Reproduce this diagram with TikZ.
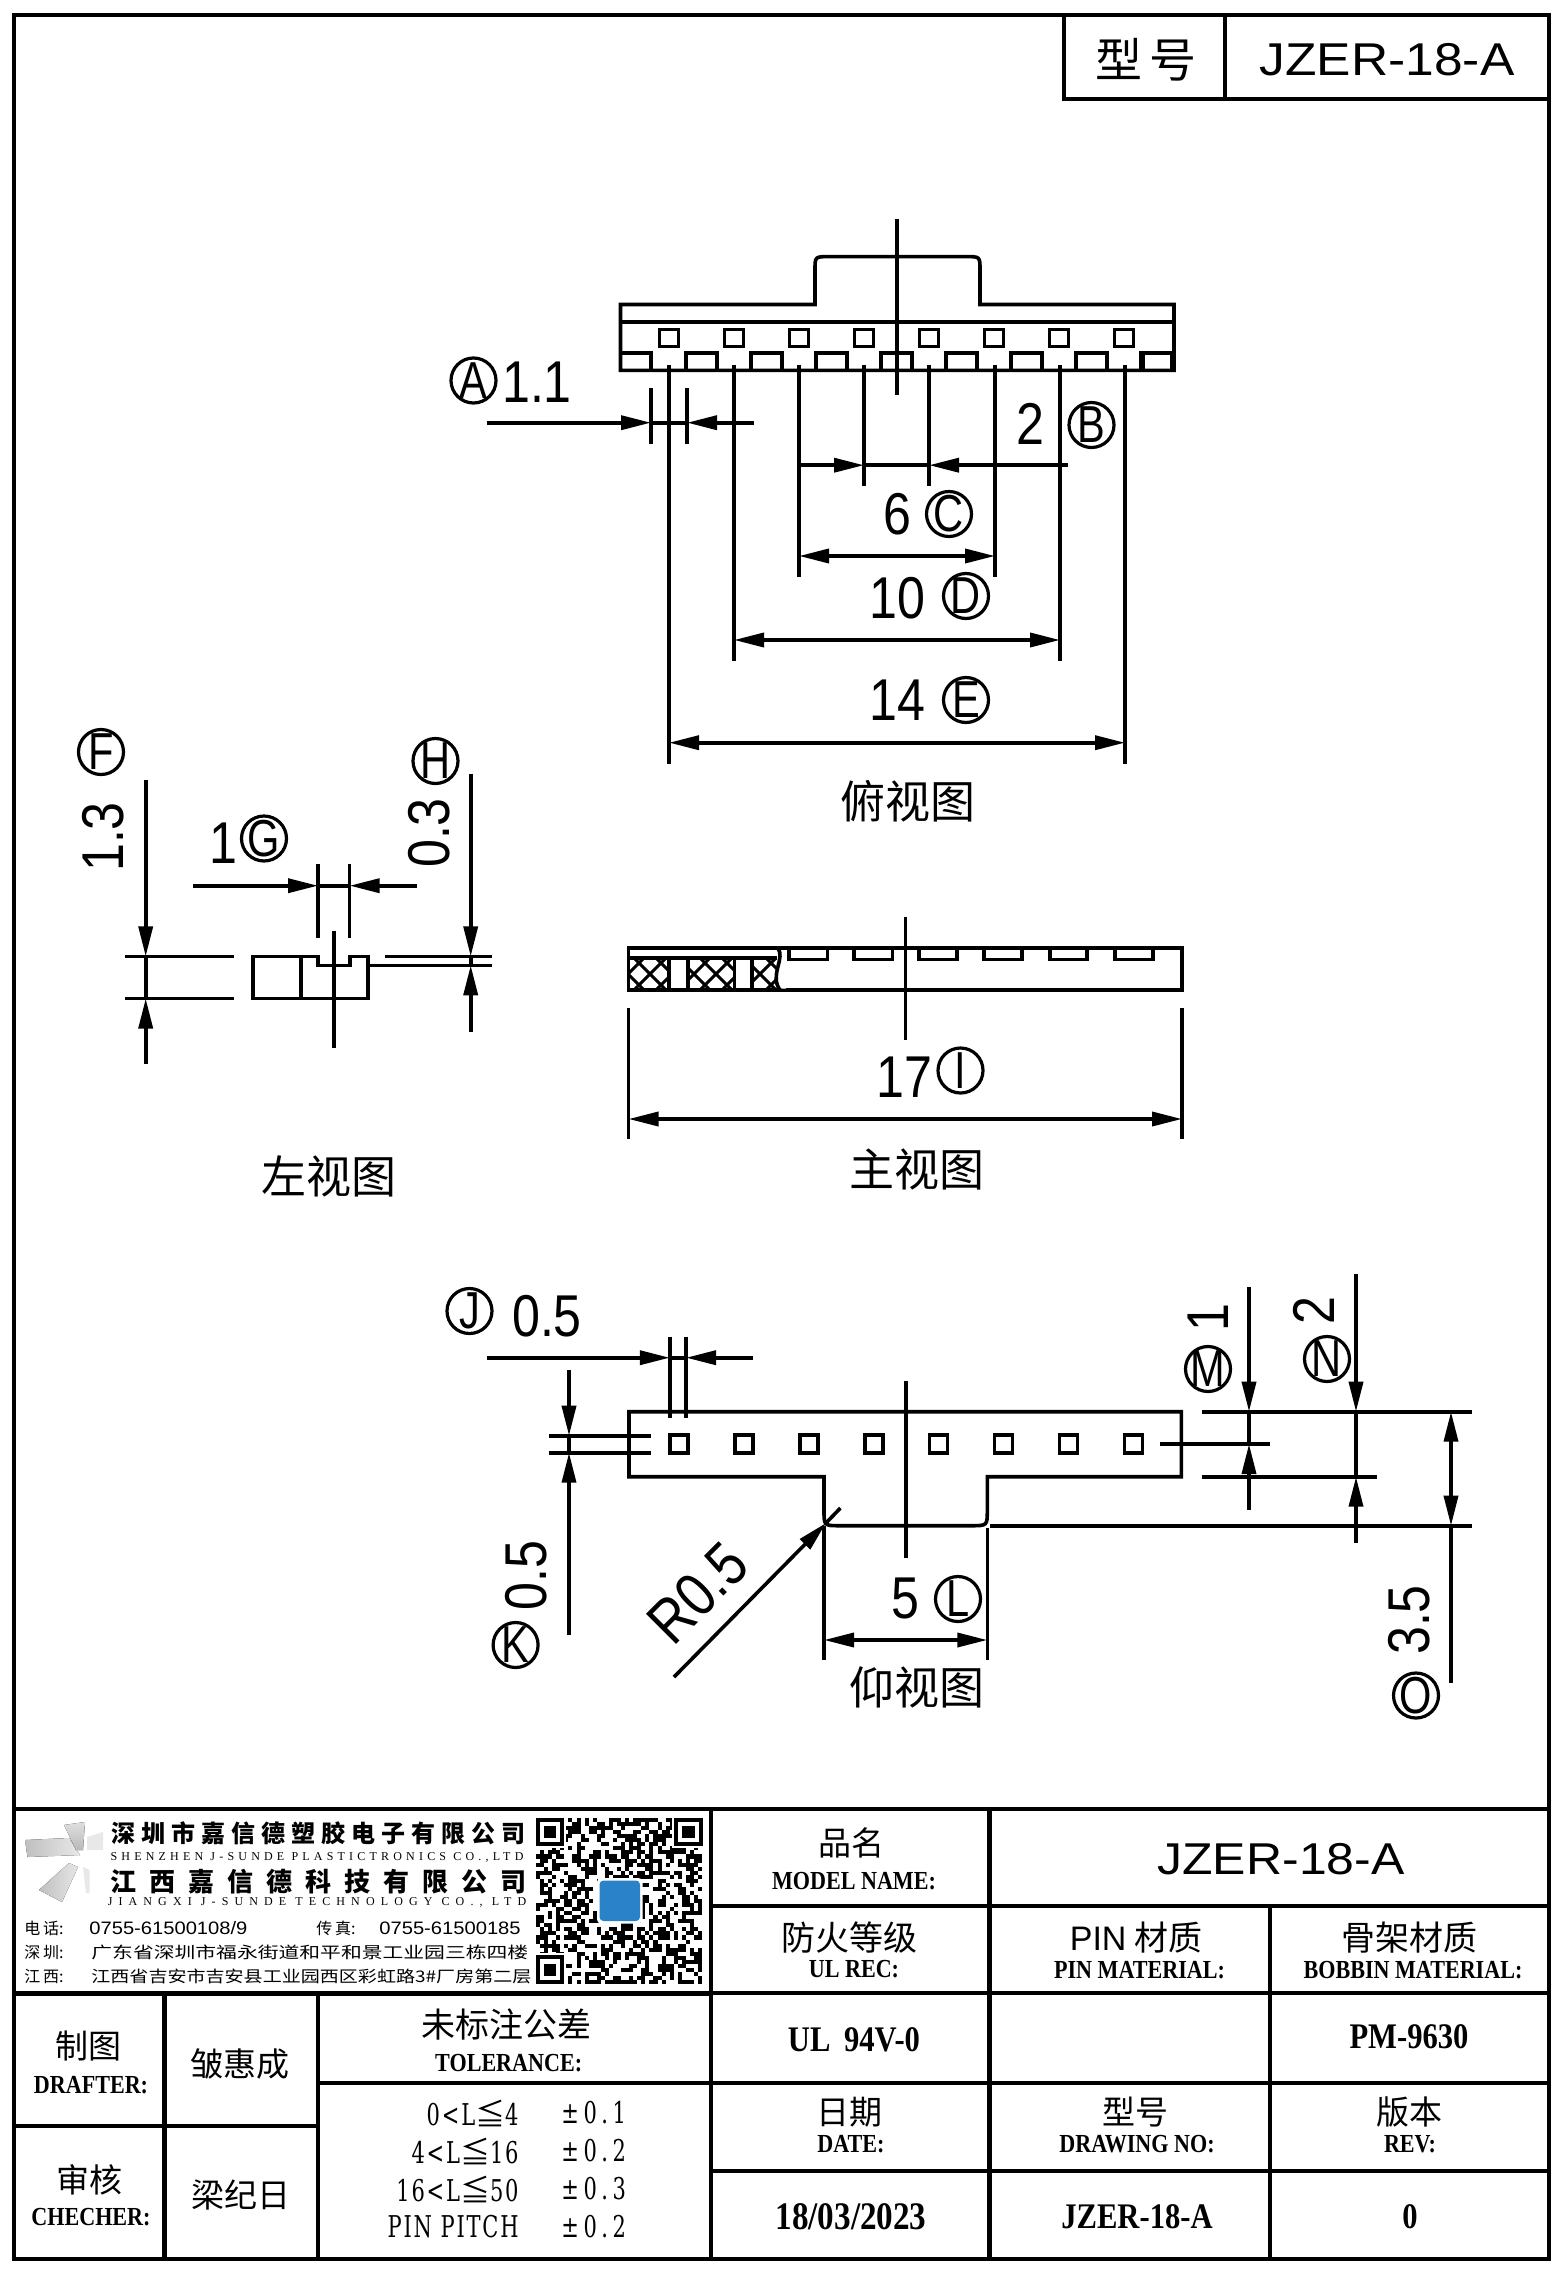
\documentclass[tikz,border=0pt]{standalone}
\usepackage{fontspec}
\usetikzlibrary{arrows.meta,shapes.geometric}
\setmainfont{Liberation Serif}
\newfontfamily\cad[FakeStretch=0.85]{Liberation Sans}
\newfontfamily\cadl[FakeStretch=0.8]{Liberation Sans}
\newfontfamily\sansr{Liberation Sans}
\newfontfamily\ttlw[FakeStretch=1.12]{Liberation Sans}
\newfontfamily\cjk{Noto Sans CJK SC}
\newfontfamily\cjka[LetterSpace=25]{Noto Sans CJK SC}
\newfontfamily\cjkb[LetterSpace=50]{Noto Sans CJK SC}
\newfontfamily\cjkw[FakeStretch=1.3]{Noto Sans CJK SC}
\newfontfamily\cjkv[FakeStretch=1.19]{Noto Sans CJK SC}
\newfontfamily\ser[FakeStretch=0.85]{Liberation Serif}
\newfontfamily\sera[LetterSpace=35]{Liberation Serif}
\newfontfamily\serb[LetterSpace=51]{Liberation Serif}
\newfontfamily\tol[FakeStretch=0.7,LetterSpace=6]{DejaVu Serif}
\newfontfamily\tols[FakeStretch=0.7,LetterSpace=15]{DejaVu Serif}
\newcommand{\fsz}[1]{\fontsize{#1}{#1}\selectfont}
\tikzset{
  ln/.style={line width=1.8pt},
  frm/.style={line width=2.2pt},
  da/.style={ln,-{Triangle[length=15pt,width=7pt]}},
  dd/.style={ln,{Triangle[length=15pt,width=7pt]}-{Triangle[length=15pt,width=7pt]}},
  cl/.style={draw,ellipse,line width=1.6pt,inner sep=0pt,minimum width=22.5pt,minimum height=22.5pt},
  cll/.style={inner sep=0pt,font=\cadl\fsz{26}},
  dt/.style={inner sep=0pt,font=\cad\fsz{29.5}},
  vw/.style={inner sep=0pt,font=\cjk\fsz{22.5}},
  hd/.style={inner sep=0pt,font=\cjk\fsz{16.5}},
  en/.style={inner sep=0pt,font=\ser\bfseries\fsz{13}},
  val/.style={inner sep=0pt,font=\ser\bfseries\fsz{18}},
  tl/.style={inner sep=0pt,font=\tol\fsz{15},anchor=east},
  tr/.style={inner sep=0pt,font=\tols\fsz{15},anchor=west},
  ad/.style={inner sep=0pt,anchor=west},
}
\newcommand{\cln}[3]{\node[cl,label={[cll]center:#3}] (c#3) at (#1,#2) {};}
\begin{document}
\begin{tikzpicture}[x=0.5pt,y=-0.5pt]
\useasboundingbox (0,0) rectangle (1561,2274);
\fill[white] (0,0) rectangle (1561,2274);

% ---- outer frame and title box
\draw[frm] (14,15) rectangle (1549,2259);
\draw[frm] (1064,15) -- (1064,99) -- (1549,99);
\draw[frm] (1225,15) -- (1225,99);
\node[inner sep=0pt,font=\cjk\fsz{23.5}] (ttype) at (1146,60) {型\,号};
\node[inner sep=0pt,font=\ttlw\fsz{23}] (tname) at (1387,60) {JZER-18-A};

% ---- top view
\draw[ln] (620.5,304.5) -- (815,304.5) -- (815,270) .. controls (815,256.6) .. (829,256.6)
  -- (966,256.6) .. controls (980,256.6) .. (980,270) -- (980,304.5) -- (1174,304.5)
  -- (1174,370.3) -- (620.5,370.3) -- cycle;
\draw[ln] (620.5,321.7) -- (1174,321.7);
\foreach \k in {0,...,7}{
  \draw[ln] (659.5+\k*65,329.4) rectangle ++(19,17.2);
}
\draw[ln] (620.5,353) -- (651,353) -- (651,370.3);
\foreach \k in {0,...,7}{
  \draw[ln] (686+\k*65,370.3) -- (686+\k*65,353) -- (717+\k*65,353) -- (717+\k*65,370.3);
}
\draw[ln] (1143,370.3) -- (1143,353) -- (1174,353);
\draw[ln] (897,219) -- (897,395);
\draw[ln] (669,364.6) -- (669,763.7);
\draw[ln] (734,364.6) -- (734,661);
\draw[ln] (799,364.6) -- (799,577);
\draw[ln] (864,364.6) -- (864,486.3);
\draw[ln] (929,364.6) -- (929,486.3);
\draw[ln] (995,364.6) -- (995,577);
\draw[ln] (1060,364.6) -- (1060,661);
\draw[ln] (1125,364.6) -- (1125,763.7);
% dim A
\draw[ln] (651,388) -- (651,444);
\draw[ln] (687,388) -- (687,444);
\draw[da] (487,422.7) -- (651,422.7);
\draw[da] (754,422.7) -- (687,422.7);
\draw[ln] (651,422.7) -- (687,422.7);
\cln{473.5}{380.5}{A}
\node[dt] (a11) at (537,382) {1.1};
% dim B
\draw[da] (799,465.2) -- (864,465.2);
\draw[da] (1068,465.2) -- (929,465.2);
\draw[ln] (864,465.2) -- (929,465.2);
\node[dt] (b2) at (1030,424) {2};
\cln{1091.5}{425}{B}
% dim C D E
\draw[dd] (799,556) -- (995,556);
\node[dt] (c6) at (897,514) {6};
\cln{949}{514}{C}
\draw[dd] (734,640) -- (1060,640);
\node[dt] (d10) at (897,598) {10};
\cln{966}{596}{D}
\draw[dd] (669,742.7) -- (1125,742.7);
\node[dt] (e14) at (897,700) {14};
\cln{966}{700}{E}
\node[vw] (v1) at (908,801) {俯视图};

% ---- left view
\draw[ln] (252.9,956.4) -- (318,956.4) -- (318,965.3) -- (350,965.3) -- (350,956.4) -- (367.9,956.4)
  -- (367.9,998.5) -- (252.9,998.5) -- cycle;
\draw[ln] (301,956.4) -- (301,998.5);
\draw[ln] (334,930.5) -- (334,1048);
\draw[ln] (125,956.4) -- (234,956.4);
\draw[ln] (125,998.5) -- (234,998.5);
\draw[da] (145.7,779.6) -- (145.7,956.4);
\draw[da] (145.7,1064) -- (145.7,998.5);
\draw[ln] (145.7,956.4) -- (145.7,998.5);
\node[dt,rotate=90] (f13) at (103.5,837) {1.3};
\cln{101}{752}{F}
\node[dt] (g1) at (223,843) {1};
\cln{264}{838.5}{G}
\draw[ln] (318,864) -- (318,938);
\draw[ln] (349.6,864) -- (349.6,938);
\draw[da] (193,885.7) -- (318,885.7);
\draw[da] (417,885.7) -- (349.6,885.7);
\draw[ln] (318,885.7) -- (349.6,885.7);
\cln{435.5}{761}{H}
\node[dt,rotate=90] (h03) at (429,833) {0.3};
\draw[ln] (385,956.4) -- (492,956.4);
\draw[ln] (369,965.3) -- (492,965.3);
\draw[da] (470.7,773.6) -- (470.7,956.4);
\draw[da] (470.7,1031.7) -- (470.7,965.3);
\draw[ln] (470.7,956.4) -- (470.7,965.3);
\node[vw] (v2) at (329,1176) {左视图};

% ---- front view
\begin{scope}
  \clip (628.5,958) rectangle (669,990) (688,958) rectangle (734.4,990) (752,958) rectangle (778,990);
  \foreach \o in {590,612,...,810}{
    \draw[line width=1.5pt] (\o,958) -- (\o+32,990);
    \draw[line width=1.5pt] (\o+32,958) -- (\o,990);
  }
\end{scope}
\draw[ln] (628.5,947.7) rectangle (1182,990);
\draw[ln] (628.5,958) -- (777,958);
\foreach \xx in {669,688,734.4,752}{\draw[ln] (\xx,958) -- (\xx,990);}
\fill[white] (780,950) .. controls (786,960) and (770,975) .. (780,988.5) -- (786,988.5) -- (786,950) -- cycle;
\draw[ln] (777.6,947.7) .. controls (786,958) and (769,975) .. (780,990);
\draw[ln] (628.5,947.7) -- (1182,947.7);
\foreach \xa/\xb in {789/827.4,853.9/892.6,919/957,984/1022,1050/1087,1115/1153}{
  \draw[ln] (\xa,947.7) -- (\xa,959.3) -- (\xb,959.3) -- (\xb,947.7);
}
\draw[ln] (905.6,916.7) -- (905.6,1040);
\draw[ln] (628.5,1008) -- (628.5,1139);
\draw[ln] (1182,1008) -- (1182,1139);
\draw[dd] (628.5,1119) -- (1182,1119);
\node[dt] (i17) at (904.5,1077) {17};
\cln{960.5}{1070.5}{I}
\node[vw] (v3) at (917,1169) {主视图};

% ---- bottom view
\draw[ln] (1181.4,1411.7) -- (629,1411.7) -- (629,1476.7) -- (824,1476.7) -- (824,1510)
  .. controls (824,1525.7) .. (840,1525.7) -- (971,1525.7) .. controls (987.3,1525.7) .. (987.3,1510)
  -- (987.3,1476.7) -- (1181.4,1476.7) -- cycle;
\foreach \k in {0,...,7}{
  \draw[ln] (670+\k*64.9,1435) rectangle ++(18,18);
}
\draw[ln] (905.7,1380.7) -- (905.7,1557.7);
% dim J
\draw[ln] (669.8,1336.7) -- (669.8,1418);
\draw[ln] (686,1336.7) -- (686,1418);
\draw[da] (487,1357.7) -- (669.8,1357.7);
\draw[da] (752.6,1357.7) -- (686,1357.7);
\draw[ln] (669.8,1357.7) -- (686,1357.7);
\cln{469.5}{1311}{J}
\node[dt] (j05) at (547,1316) {0.5};
% dim K
\draw[ln] (548.6,1435.7) -- (650.6,1435.7);
\draw[ln] (548.6,1452.7) -- (650.6,1452.7);
\draw[da] (569,1370) -- (569,1435.7);
\draw[da] (569,1635) -- (569,1452.7);
\draw[ln] (569,1435.7) -- (569,1452.7);
\node[dt,rotate=90] (k05) at (526,1575.5) {0.5};
\cln{515.6}{1645}{K}
% R0.5
\draw[da] (674,1677) -- (826,1523);
\draw[ln] (826,1523) -- (840.4,1508);
\node[dt,rotate=45,font=\cad\fsz{31}] (r05) at (697.5,1593) {R0.5};
% dim L
\draw[ln] (824,1525.7) -- (824,1660);
\draw[ln] (987.3,1528) -- (987.3,1660);
\draw[dd] (824,1640) -- (987.3,1640);
\node[dt] (l5) at (905,1598) {5};
\cln{958}{1599}{L}
\node[vw] (v4) at (917,1687) {仰视图};
% right dims
\draw[ln] (1201.7,1411.7) -- (1471.7,1411.7);
\draw[ln] (1201.7,1476.7) -- (1377,1476.7);
\draw[ln] (1160,1444) -- (1270,1444);
\draw[ln] (990,1525.7) -- (1471.7,1525.7);
\draw[da] (1249,1287.3) -- (1249,1411.7);
\draw[da] (1249,1510) -- (1249,1444);
\draw[ln] (1249,1411.7) -- (1249,1444);
\node[dt,rotate=90] (m1) at (1208,1318) {1};
\cln{1208}{1369}{M}
\draw[da] (1356,1274) -- (1356,1411.7);
\draw[da] (1356,1543) -- (1356,1476.7);
\draw[ln] (1356,1411.7) -- (1356,1476.7);
\node[dt,rotate=90] (n2) at (1314,1311) {2};
\cln{1327}{1359}{N}
\draw[dd] (1451,1411.7) -- (1451,1525.7);
\draw[ln] (1451,1525.7) -- (1451,1683);
\node[dt,rotate=90] (o35) at (1408.7,1620) {3.5};
\cln{1416}{1695.5}{O}

% ---- title block grid
\draw[frm] (14,1809) -- (1549,1809);
\draw[frm] (14,1993.5) -- (711,1993.5);
\draw[frm] (711,1809) -- (711,2259);
\draw[frm] (989.5,1809) -- (989.5,2259);
\draw[frm] (1269.8,1906) -- (1269.8,2259);
\draw[frm] (711,1906) -- (1549,1906);
\draw[frm] (711,1993) -- (1549,1993);
\draw[frm] (317.7,2082.7) -- (1549,2082.7);
\draw[frm] (711,2170.7) -- (1549,2170.7);
\draw[frm] (164.4,1993.5) -- (164.4,2259);
\draw[frm] (317.7,1993.5) -- (317.7,2259);
\draw[frm] (14,2125.7) -- (317.7,2125.7);

% ---- right table text
\node[hd] (n1a) at (851,1843) {品名};
\node[en] (n1b) at (854,1881) {MODEL NAME:};
\node[inner sep=0pt,font=\ttlw\fsz{22.3}] (n1c) at (1281,1859) {JZER-18-A};
\node[hd,font=\cjk\fsz{17}] (n2a) at (849.5,1938) {防火等级};
\node[en] (n2b) at (854,1969) {UL REC:};
\node[hd,font=\cjk\fsz{17}] (n3a) at (1136,1938) {{\sansr PIN} 材质};
\node[en] (n3b) at (1139.5,1970) {PIN MATERIAL:};
\node[hd,font=\cjk\fsz{17}] (n4a) at (1409,1938) {骨架材质};
\node[en] (n4b) at (1413,1970) {BOBBIN MATERIAL:};
\node[val] (n5) at (854,2040) {UL\, 94V-0};
\node[val] (n6) at (1409,2037) {PM-9630};
\node[hd] (n7a) at (849.5,2112) {日期};
\node[en] (n7b) at (851,2144) {DATE:};
\node[hd] (n8a) at (1135,2112) {型号};
\node[en] (n8b) at (1137,2144) {DRAWING NO:};
\node[hd] (n9a) at (1409,2112) {版本};
\node[en] (n9b) at (1410,2144) {REV:};
\node[val,font=\ser\bfseries\fsz{19.5}] (n10) at (851,2217) {18/03/2023};
\node[val] (n11) at (1137,2217) {JZER-18-A};
\node[val] (n12) at (1410,2217) {0};

% ---- left table text
\node[hd] (l1a) at (88,2046) {制图};
\node[en] (l1b) at (91,2085) {DRAFTER:};
\node[hd] (l2) at (240,2064) {皱惠成};
\node[hd] (l3a) at (89.5,2180) {审核};
\node[en] (l3b) at (91,2217) {CHECHER:};
\node[hd] (l4) at (241,2195) {梁纪日};
\node[hd,font=\cjk\fsz{17}] (l5a) at (506.4,2024) {未标注公差};
\node[en] (l5b) at (508.7,2062.7) {TOLERANCE:};
\node[tl] (t1a) at (519,2113) {0<L{\cjk ≦}4};
\node[tr] (t1b) at (561,2113) {±0.1};
\node[tl] (t2a) at (519,2151) {4<L{\cjk ≦}16};
\node[tr] (t2b) at (561,2151) {±0.2};
\node[tl] (t3a) at (519,2189) {16<L{\cjk ≦}50};
\node[tr] (t3b) at (561,2189) {±0.3};
\node[tl] (t4a) at (519,2227) {PIN PITCH};
\node[tr] (t4b) at (561,2227) {±0.2};

% ---- company block
\fill[left color=gray!50,right color=gray!18] (25,1840) -- (69,1838) -- (80,1855) -- (27.5,1857) -- cycle;
\fill[top color=gray!25,bottom color=gray!55] (64,1825) -- (85,1822) -- (83,1850) -- (76,1850) -- cycle;
\fill[left color=gray!50,right color=gray!20] (39,1890) -- (62,1902) -- (78,1867) -- (69,1863) -- cycle;
\fill[gray!18] (87,1837) -- (103,1832) -- (103,1850) -- (87,1850) -- cycle;
\fill[gray!18] (83,1867) -- (89.5,1870) -- (89.5,1893) -- (86,1893) -- cycle;
\node[inner sep=0pt,font=\cjka\bfseries\fsz{12}] (co1) at (318,1833.5) {深圳市嘉信德塑胶电子有限公司};
\node[inner sep=0pt,font=\sera\fsz{6}] (co2) at (317,1857) {SHENZHEN J-SUNDE PLASTICTRONICS CO.,LTD};
\node[inner sep=0pt,font=\cjkb\bfseries\fsz{13}] (co3) at (318,1881.5) {江西嘉信德科技有限公司};
\node[inner sep=0pt,font=\serb\fsz{6}] (co4) at (317,1902.7) {JIANGXI J-SUNDE TECHNOLOGY CO., LTD};
\node[ad,font=\cjk\fsz{8}] (co5a) at (24,1928) {电\,话:};
\node[ad,font=\ttlw\fsz{9}] (co5b) at (89,1928) {0755-61500108/9};
\node[ad,font=\cjk\fsz{8}] (co6a) at (316,1928) {传\,真:};
\node[ad,font=\ttlw\fsz{9}] (co6b) at (379,1928) {0755-61500185};
\node[ad,font=\cjk\fsz{8}] (co7a) at (24,1952.7) {深\,圳:};
\node[ad,font=\cjkw\fsz{8}] (co7b) at (91,1952.7) {广东省深圳市福永街道和平和景工业园三栋四楼};
\node[ad,font=\cjk\fsz{8}] (co8a) at (24,1976.7) {江\,西:};
\node[ad,font=\cjkv\fsz{8}] (co8b) at (91,1976.7) {江西省吉安市吉安县工业园西区彩虹路3\#厂房第二层};

% ---- QR code
\pgfmathsetseed{41}
\foreach \i in {0,...,40}{
  \foreach \j in {0,...,40}{
    \pgfmathrandominteger{\rr}{0}{1}
    \ifnum\rr=1 \fill[black] (536+\i*4.05,1818+\j*4.05) rectangle ++(4.05,4.05);\fi
  }
}
\foreach \qx/\qy in {536/1818,674.3/1818,536/1955.4}{
  \fill[white] (\qx-2,\qy-2) rectangle ++(32.4,32.4);
  \fill[black] (\qx,\qy) rectangle ++(28.35,28.35);
  \fill[white] (\qx+4.05,\qy+4.05) rectangle ++(20.25,20.25);
  \fill[black] (\qx+8.1,\qy+8.1) rectangle ++(12.15,12.15);
}
\fill[white,rounded corners=2pt] (597,1878) rectangle (642.5,1923.5);
\fill[fill={rgb,255:red,42;green,130;blue,200},rounded corners=2pt] (599.5,1880.5) rectangle (640,1921);
\end{tikzpicture}
\end{document}
